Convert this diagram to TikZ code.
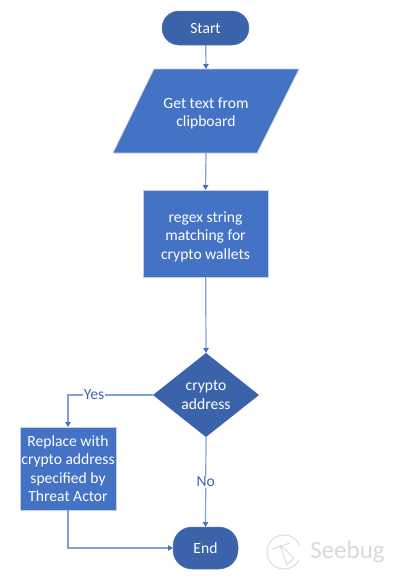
\documentclass[tikz,border=0pt]{standalone}
\usepackage{fontspec}
\setmainfont{Carlito}
\usetikzlibrary{shapes.geometric,arrows.meta}
\definecolor{darkfill}{HTML}{3A63AA}
\definecolor{midfill}{HTML}{4472C4}
\definecolor{linkblue}{HTML}{7EA1DA}
\definecolor{labelblue}{HTML}{3F66AE}
\definecolor{edgepale}{HTML}{C5D0E6}
\definecolor{markgray}{HTML}{DADADA}
\tikzset{
  x=1pt,y=-1pt,
  shapetext/.style={text=white,font=\fontsize{15.6}{18.5}\selectfont,align=center,inner sep=0pt,outer sep=0pt},
  terminal/.style={shapetext,fill=darkfill,draw=darkfill!85!white,line width=.5pt,rounded corners=17pt},
  procbox/.style={shapetext,fill=midfill,draw=edgepale,line width=.6pt,minimum width=#1},
  link/.style={draw=linkblue,line width=1.2pt,-{Triangle[length=5pt,width=5.5pt,color=midfill]}},
  edgelabel/.style={text=labelblue,fill=white,font=\fontsize{15.6}{17}\selectfont,inner sep=1pt}
}
\begin{document}
\begin{tikzpicture}
\useasboundingbox (0,0) rectangle (413,579);
\fill[white] (0,0) rectangle (413,579);
% shapes
\node[terminal,minimum width=87pt,minimum height=34pt] (start) at (205.5,28) {Start};
\fill[midfill] (154,69) -- (299,69) -- (257,153) -- (113,153) -- cycle;
\draw[edgepale,line width=.6pt] (154,69) -- (299,69) -- (257,153) -- (113,153) -- cycle;
\node[shapetext,minimum width=100pt,minimum height=84pt] (get) at (206,111) {\rule{0pt}{16pt}Get text from\\clipboard};
\node[procbox=125pt,minimum height=87pt] (regex) at (205.5,233.5) {\rule{0pt}{17pt}regex string\\matching for\\crypto wallets};
\node[diamond,aspect=1.26,shapetext,fill=darkfill,minimum width=106pt,minimum height=84pt] (dec) at (206,395) {crypto\\address};
\node[procbox=96pt,minimum height=83pt] (rep) at (68,468.5) {Replace with\\crypto address\\specified by\\Threat Actor};
\node[terminal,rounded corners=19pt,minimum width=65pt,minimum height=42pt] (end) at (205.5,548) {End};
% connectors
\draw[link] (start) -- (get.north);
\draw[link] (get.south) -- (regex.north);
\draw[link] (regex) -- (dec.north);
\draw[link] (dec.west) -| node[pos=.347,edgelabel] {Yes} (rep.north);
\draw[link] (dec.south) -- node[edgelabel,pos=.5] {No} (end.north);
\draw[link] (rep.south) |- (end.west);
% watermark
\node[text=markgray,font=\fontsize{25}{25}\selectfont,inner sep=0pt] (mark) at (347.5,552) {Seebug};
\draw[markgray,line width=.9pt] (284,552) ++(-20:17) arc (-20:-330:17);
\draw[markgray,line width=.9pt] (272,549) -- (290,543) (280,545) -- (287,565) -- (294,558) -- (280,545);
\end{tikzpicture}
\end{document}
